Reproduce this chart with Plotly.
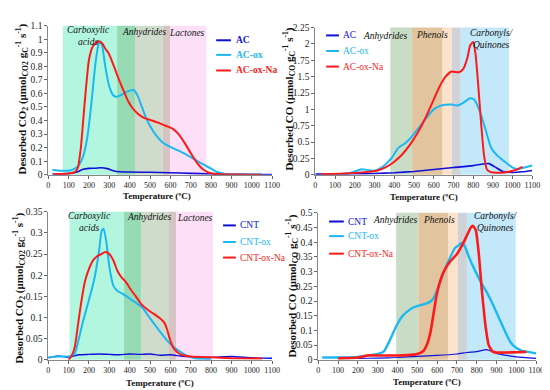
import plotly.graph_objects as go

# ---------------- data ----------------
# Panel 1: CO2 TPD, activated carbons
t_ac_co2 = [20, 100, 140, 170, 200, 230, 260, 290, 320, 350, 400, 500, 600, 700, 800, 900, 1000, 1100]
ac_co2 = [0.005, 0.008, 0.02, 0.04, 0.047, 0.048, 0.052, 0.045, 0.03, 0.022, 0.02, 0.018, 0.015, 0.01, 0.006, 0.003, 0.002, 0.002]
t_acox_co2 = [20, 60, 100, 130, 150, 170, 190, 210, 230, 245, 255, 265, 280, 300, 320, 335, 360, 390, 420, 440, 460,
              480, 500, 530, 560, 600, 650, 700, 750, 800, 830, 870, 950, 1050]
acox_co2 = [0.035, 0.03, 0.03, 0.045, 0.07, 0.13, 0.26, 0.5, 0.8, 0.95, 0.985, 0.95, 0.8, 0.65, 0.585, 0.575, 0.59,
            0.615, 0.625, 0.58, 0.5, 0.42, 0.36, 0.29, 0.24, 0.205, 0.17, 0.13, 0.085, 0.045, 0.02, 0.006, 0.002, 0.002]
t_acoxna_co2 = [30, 100, 130, 145, 160, 180, 200, 220, 245, 265, 280, 295, 310, 330, 350, 370, 390, 410, 440, 470, 500,
                540, 580, 610, 640, 670, 700, 730, 760, 790, 830, 900, 1050]
acoxna_co2 = [0.005, 0.01, 0.02, 0.05, 0.2, 0.55, 0.85, 0.95, 0.985, 0.97, 0.93, 0.9, 0.85, 0.77, 0.69, 0.62, 0.55, 0.5,
              0.45, 0.42, 0.405, 0.385, 0.36, 0.34, 0.3, 0.235, 0.16, 0.09, 0.04, 0.015, 0.005, 0.002, 0.0]

# Panel 2: CO TPD, activated carbons
t_ac_co = [0, 100, 200, 300, 400, 500, 600, 700, 800, 850, 880, 910, 950, 1000, 1050, 1100]
ac_co = [0.01, 0.01, 0.015, 0.02, 0.03, 0.05, 0.08, 0.11, 0.14, 0.165, 0.17, 0.12, 0.05, 0.035, 0.045, 0.065]
t_acox_co = [30, 100, 150, 190, 235, 270, 300, 330, 360, 390, 420, 450, 480, 520, 560, 600, 630, 660, 690, 720, 750,
             785, 805, 830, 860, 890, 920, 960, 1000, 1030, 1060, 1100]
acox_co = [0.01, 0.01, 0.02, 0.04, 0.085, 0.07, 0.06, 0.1, 0.17, 0.27, 0.41, 0.47, 0.55, 0.7, 0.86, 1.0, 1.05, 1.07,
           1.075, 1.06, 1.1, 1.17, 1.15, 1.0, 0.72, 0.42, 0.3, 0.2, 0.11, 0.09, 0.11, 0.14]
t_acoxna_co = [30, 150, 250, 320, 360, 400, 440, 480, 520, 560, 600, 630, 660, 690, 710, 730, 750, 770, 785, 800, 812,
               825, 840, 855, 870, 890, 920, 960, 1000, 1030, 1050]
acoxna_co = [0.01, 0.02, 0.04, 0.07, 0.12, 0.2, 0.31, 0.46, 0.65, 0.88, 1.15, 1.35, 1.5, 1.58, 1.57, 1.57, 1.62, 1.78,
             1.98, 2.03, 1.85, 1.4, 0.8, 0.3, 0.08, 0.04, 0.03, 0.035, 0.06, 0.09, 0.12]

# Panel 3: CO2 TPD, carbon nanotubes
t_cnt_co2 = [0, 50, 100, 150, 200, 250, 300, 350, 400, 450, 500, 550, 600, 650, 700, 800, 900, 1000, 1100]
cnt_co2 = [0.005, 0.009, 0.006, 0.012, 0.013, 0.014, 0.013, 0.012, 0.014, 0.013, 0.014, 0.011, 0.012, 0.009, 0.007,
           0.006, 0.008, 0.005, 0.004]
t_cntox_co2 = [0, 50, 100, 130, 150, 170, 190, 210, 230, 250, 262, 272, 285, 300, 320, 340, 370, 400, 430, 460, 490,
               520, 550, 580, 610, 640, 680, 720, 800]
cntox_co2 = [0.006, 0.008, 0.008, 0.015, 0.05, 0.09, 0.125, 0.16, 0.2, 0.26, 0.305, 0.31, 0.28, 0.22, 0.175, 0.163,
             0.155, 0.145, 0.135, 0.125, 0.105, 0.085, 0.066, 0.048, 0.033, 0.022, 0.01, 0.004, 0.002]
t_cntoxna_co2 = [100, 115, 130, 145, 160, 180, 200, 220, 240, 260, 280, 300, 320, 340, 360, 380, 400, 430, 460, 490,
                 520, 550, 570, 585, 600, 620, 650, 700, 800, 900, 1050]
cntoxna_co2 = [0.0, 0.01, 0.03, 0.08, 0.13, 0.185, 0.215, 0.235, 0.245, 0.25, 0.255, 0.25, 0.235, 0.21, 0.195, 0.185,
               0.17, 0.15, 0.13, 0.118, 0.108, 0.098, 0.088, 0.07, 0.045, 0.025, 0.013, 0.008, 0.006, 0.004, 0.003]

# Panel 4: CO TPD, carbon nanotubes
t_cnt_co = [100, 200, 300, 400, 500, 600, 700, 750, 800, 850, 900, 950, 1000, 1100]
cnt_co = [0.005, 0.005, 0.006, 0.008, 0.012, 0.015, 0.02, 0.025, 0.028, 0.035, 0.022, 0.015, 0.01, 0.005]
t_cntox_co = [20, 100, 200, 250, 300, 330, 360, 390, 420, 450, 480, 510, 540, 570, 590, 610, 640, 670, 690, 710, 725,
              740, 760, 790, 820, 850, 880, 910, 940, 970, 1000, 1030, 1060, 1100]
cntox_co = [0.008, 0.008, 0.01, 0.015, 0.02, 0.028, 0.065, 0.11, 0.145, 0.165, 0.178, 0.185, 0.19, 0.2, 0.22, 0.255,
            0.31, 0.355, 0.38, 0.39, 0.398, 0.385, 0.35, 0.305, 0.265, 0.23, 0.19, 0.145, 0.1, 0.06, 0.04, 0.03, 0.027,
            0.022]
t_cntoxna_co = [100, 200, 250, 300, 400, 450, 500, 530, 550, 565, 580, 600, 630, 660, 700, 730, 755, 770, 780, 795,
                810, 825, 845, 860, 880, 900, 950, 1000, 1050]
cntoxna_co = [0.005, 0.008, 0.015, 0.015, 0.015, 0.016, 0.02, 0.03, 0.055, 0.09, 0.15, 0.23, 0.295, 0.33, 0.36, 0.395,
              0.43, 0.45, 0.456, 0.44, 0.36, 0.24, 0.11, 0.05, 0.028, 0.025, 0.025, 0.026, 0.027]

# Temperature band edges (ºC) for each panel
bands1_edges = [72, 338, 426, 563, 600, 777]
bands2_edges = [380, 489, 645, 692, 737, 982]
bands3_edges = [105, 371, 458, 593, 629, 809]
bands4_edges = [393, 505, 657, 704, 750, 996]

x_ticks = list(range(0, 1101, 100))
y1_ticks = [0, 0.1, 0.2, 0.3, 0.4, 0.5, 0.6, 0.7, 0.8, 0.9, 1, 1.1]
y2_ticks = [0, 0.25, 0.5, 0.75, 1, 1.25, 1.5, 1.75, 2, 2.25]
y3_ticks = [0, 0.05, 0.1, 0.15, 0.2, 0.25, 0.3, 0.35]
y4_ticks = [0, 0.05, 0.1, 0.15, 0.2, 0.25, 0.3, 0.35, 0.4, 0.45, 0.5]

# ---------------- styling ----------------
FONT = '"Liberation Serif", "Times New Roman", Times, serif'
BLUE = "#1010d8"
CYAN = "#1cb8f2"
RED = "#ff1a1a"
co2_band_colors = ["#b3f6df", "#97dbb5", "#cfdccb", "#d5c4c2", "#fde0f8"]
co_band_colors = ["#c8dcc6", "#e2c49e", "#fde2cb", "#cfd2d6", "#c3e8f9"]

W, H = 550, 390
panels = {
    1: dict(px=(39, 267), py=(13, 166)),
    2: dict(px=(311, 532), py=(15, 166)),
    3: dict(px=(39, 267), py=(204, 356)),
    4: dict(px=(314, 536), py=(205, 356)),
}

fig = go.Figure()

def sfx(i):
    return "" if i == 1 else str(i)

series = {
    1: [(t_ac_co2, ac_co2, "AC", BLUE, 1.6), (t_acox_co2, acox_co2, "AC-ox", CYAN, 2),
        (t_acoxna_co2, acoxna_co2, "AC-ox-Na", RED, 2)],
    2: [(t_ac_co, ac_co, "AC", BLUE, 1.6), (t_acox_co, acox_co, "AC-ox", CYAN, 2),
        (t_acoxna_co, acoxna_co, "AC-ox-Na", RED, 2)],
    3: [(t_cnt_co2, cnt_co2, "CNT", BLUE, 1.4), (t_cntox_co2, cntox_co2, "CNT-ox", CYAN, 2),
        (t_cntoxna_co2, cntoxna_co2, "CNT-ox-Na", RED, 2)],
    4: [(t_cnt_co, cnt_co, "CNT", BLUE, 1.2), (t_cntox_co, cntox_co, "CNT-ox", CYAN, 2.4),
        (t_cntoxna_co, cntoxna_co, "CNT-ox-Na", RED, 2.6)],
}
bold_legend = {1: True, 2: False, 3: False, 4: False}
# manual legend: (line x0, line x1, text x, row y's) in pixels
legend_geo = {1: (210, 225, 228, [28, 43, 59]), 2: (322, 335, 337, [23, 39, 55]),
              3: (217, 230, 232, [218, 235, 251]), 4: (325, 340, 342, [214, 229, 247])}

for i in range(1, 5):
    for (tx, vy, nm, col, lw) in series[i]:
        fig.add_trace(go.Scatter(
            x=tx, y=vy, mode="lines", name=nm, showlegend=False,
            line=dict(color=col, width=lw, shape="spline", smoothing=0.5),
            xaxis="x" + sfx(i), yaxis="y" + sfx(i),
        ))

yticks = {1: y1_ticks, 2: y2_ticks, 3: y3_ticks, 4: y4_ticks}
layout = dict(width=W, height=H, margin=dict(l=0, r=0, t=0, b=0),
              paper_bgcolor="white", plot_bgcolor="rgba(0,0,0,0)",
              font=dict(family=FONT, color="#222"), showlegend=False)

for i in range(1, 5):
    p = panels[i]
    xd = [p["px"][0] / W, p["px"][1] / W]
    yd = [1 - p["py"][1] / H, 1 - p["py"][0] / H]
    yt = yticks[i]
    layout["xaxis" + sfx(i)] = dict(
        domain=xd, range=[0, 1100], anchor="y" + sfx(i), tickvals=x_ticks,
        ticktext=[str(v) for v in x_ticks], showline=True, linecolor="#888", linewidth=1,
        ticks="outside", ticklen=3, tickcolor="#666", showgrid=False, zeroline=False,
        tickangle=0, tickfont=dict(family=FONT, size=8, color="#222"), fixedrange=True)
    layout["yaxis" + sfx(i)] = dict(
        domain=yd, range=[0, yt[-1]], anchor="x" + sfx(i), tickvals=yt,
        ticktext=[("%g" % v) for v in yt], showline=True, linecolor="#888", linewidth=1,
        ticks="outside", ticklen=3, tickcolor="#666", showgrid=False, zeroline=False,
        tickfont=dict(family=FONT, size=9.5, color="#222"), fixedrange=True)

fig.update_layout(**layout)

# bands
shapes = []
for i, edges, cols in [(1, bands1_edges, co2_band_colors), (2, bands2_edges, co_band_colors),
                       (3, bands3_edges, co2_band_colors), (4, bands4_edges, co_band_colors)]:
    for k in range(len(edges) - 1):
        shapes.append(dict(type="rect", xref="x" + sfx(i), yref="y" + sfx(i) + " domain",
                           x0=edges[k], x1=edges[k + 1], y0=0, y1=1, fillcolor=cols[k],
                           line=dict(width=0), layer="below"))

ann = []
# manual legends
for i in range(1, 5):
    x0, x1, tx, rows = legend_geo[i]
    for (s, ry) in zip(series[i], rows):
        nm, col, lw = s[2], s[3], s[4]
        shapes.append(dict(type="line", xref="paper", yref="paper", x0=x0 / W, x1=x1 / W,
                           y0=1 - ry / H, y1=1 - ry / H, line=dict(color=col, width=2)))
        label = f"<b>{nm}</b>" if bold_legend[i] else nm
        ann.append(dict(x=tx / W, y=1 - ry / H, xref="paper", yref="paper", text=label,
                        showarrow=False, xanchor="left", yanchor="middle",
                        font=dict(family=FONT, size=9.5, color=col)))
fig.update_layout(shapes=shapes)

# band labels (italic)
band_labels = [
    (1, 198, 0.928, "Carboxylic<br>acids"), (1, 473, 0.96, "Anhydrides"), (1, 680, 0.954, "Lactones"),
    (2, 358, 0.94, "Anhydrides"), (2, 592, 0.947, "Phenols"), (2, 896, 0.924, "Carbonyls/<br>Quinones"),
    (3, 203, 0.934, "Carboxylic<br>acids"), (3, 497, 0.967, "Anhydrides"), (3, 719, 0.96, "Lactones"),
    (4, 391, 0.954, "Anhydrides"), (4, 610, 0.954, "Phenols"), (4, 899, 0.94, "Carbonyls/<br>Quinones"),
]
for i, xv, yv, txt in band_labels:
    ann.append(dict(x=xv, y=yv, xref="x" + sfx(i), yref="y" + sfx(i) + " domain", text=f"<i>{txt}</i>",
                    showarrow=False, font=dict(family=FONT, size=9.5, color="#111"), xanchor="center",
                    yanchor="middle"))

ytitle_co2 = "<b>Desorbed CO<sub>2</sub> (μmol<sub>CO2</sub> g<sub>C</sub><sup>-1</sup> s<sup>-1</sup>)</b>"
ytitle_co = "<b>Desorbed CO (μmol<sub>CO</sub> g<sub>C</sub><sup>-1</sup> s<sup>-1</sup>)</b>"
for (cx, cy, txt) in [(12, 88, ytitle_co2), (284, 88, ytitle_co), (9, 282, ytitle_co2), (287, 280, ytitle_co)]:
    ann.append(dict(x=cx / W, y=1 - cy / H, xref="paper", yref="paper", text=txt, textangle=-90,
                    showarrow=False, font=dict(family=FONT, size=11, color="#111"),
                    xanchor="center", yanchor="middle"))
for (cx, cy) in [(150, 188), (422, 189), (153, 380), (425, 379)]:
    ann.append(dict(x=cx / W, y=1 - cy / H, xref="paper", yref="paper", text="<b>Temperature (ºC)</b>",
                    showarrow=False, font=dict(family=FONT, size=9, color="#111"),
                    xanchor="center", yanchor="middle"))
fig.update_layout(annotations=ann)

fig.write_html("out.html")
